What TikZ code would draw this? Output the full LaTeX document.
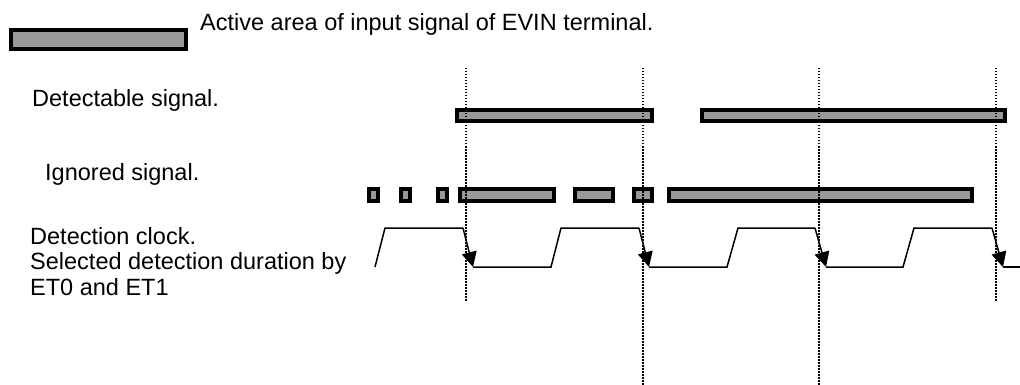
\documentclass[tikz,border=0pt]{standalone}
\usepackage{fontspec}
\setmainfont{Liberation Sans}
\usetikzlibrary{arrows.meta}
\tikzset{
  sigbar/.style={draw=black,line width=4pt,fill=black!40},
  gridline/.style={line width=1.5pt,dash pattern=on 1.5pt off 1.5pt},
  clk/.style={line width=1.5pt},
  clkfall/.style={line width=1.5pt,-{Triangle[length=15pt,width=15pt]}},
  lbl/.style={anchor=base west,inner sep=0pt,font=\fontsize{23.5}{25.5}\selectfont,align=left}
}
\begin{document}
\begin{tikzpicture}[x=1pt,y=-1pt]
    \useasboundingbox (0,0) rectangle (1020,385);
    \draw[sigbar] (11,30) rectangle (186,49);
    \node[lbl] (legend) at (200,31) {Active area of input signal of EVIN terminal.};
    \node[lbl] (detect) at (32,107) {Detectable signal.};
    \node[lbl] (ignore) at (45,180) {Ignored signal.};
    \node[lbl] (clock) at (30,295) {Detection clock.\\Selected detection duration by\\ET0 and ET1};

    \draw[sigbar] (457,110) rectangle (652,121);
    \draw[sigbar] (702,110) rectangle (1005,121);

    \draw[sigbar] (369,189) rectangle (378,201);
    \draw[sigbar] (401,189) rectangle (410,201);
    \draw[sigbar] (438,189) rectangle (447,201);
    \draw[sigbar] (460,189) rectangle (554,201);
    \draw[sigbar] (575,189) rectangle (613,201);
    \draw[sigbar] (634,189) rectangle (652,201);
    \draw[sigbar] (669,189) rectangle (972,201);

    \draw[gridline] (466,68)--(466,302);
    \draw[gridline] (643,68)--(643,385);
    \draw[gridline] (819,68)--(819,385);
    \draw[gridline] (996,68)--(996,302);

    \draw[clk] (375,267)--(385,228)--(463,228);
    \draw[clkfall] (463,228)--(473,267);
    \draw[clk] (473,267)--(551,267)--(561,228)--(639,228);
    \draw[clkfall] (639,228)--(649,267);
    \draw[clk] (649,267)--(727,267)--(738,228)--(815,228);
    \draw[clkfall] (815,228)--(826,267);
    \draw[clk] (826,267)--(903,267)--(914,228)--(992,228);
    \draw[clkfall] (992,228)--(1003,267);
    \draw[clk] (1003,267)--(1020,267);
\end{tikzpicture}
\end{document}
